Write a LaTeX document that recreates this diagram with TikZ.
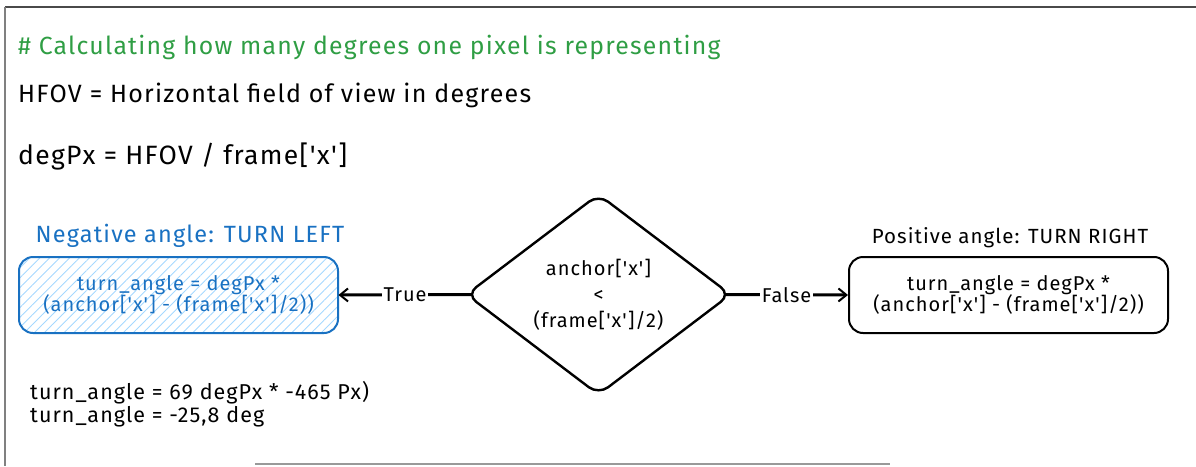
\documentclass[tikz,border=0pt]{standalone}
\usepackage{fontspec}
\setmainfont{Fira Sans}[Ligatures=TeXOff, LetterSpace=5]
\usetikzlibrary{arrows.meta,shapes.geometric,patterns.meta}
\definecolor{xgreen}{HTML}{2F9E44}
\definecolor{xblue}{HTML}{1971C2}
\definecolor{xlblue}{HTML}{A5D8FF}
\definecolor{xframe}{HTML}{4A4A4A}
\tikzset{
  txt/.style={inner sep=0pt, anchor=west},
  calcbox/.style={draw, rounded corners=14pt, line width=2pt, minimum width=319pt, minimum height=76pt, align=center, font=\fontsize{20}{21.5}\selectfont},
  conn/.style={line width=3pt, -{Straight Barb[length=8pt,width=13pt,line width=2pt]}},
  clabel/.style={fill=white, inner sep=1.5pt, font=\fontsize{20}{21}\selectfont},
}
\begin{document}
\begin{tikzpicture}[x=1pt,y=-1pt]
\useasboundingbox (0,0) rectangle (1196,466);
% frame
\draw[xframe, line width=2pt] (5,7) -- (1196,7);
\draw[gray, line width=2pt] (5,7) -- (5,466);
\draw[gray!80, line width=2pt] (255,464) -- (890,464);
% texts
\node[txt, text=xgreen, font=\fontsize{24.8}{27}\selectfont] (head) at (18,47) {\# Calculating how many degrees one pixel is representing};
\node[txt, font=\fontsize{25}{27}\selectfont] (hfov) at (18,95) {HFOV = Horizontal field of view in degrees};
\node[txt, font=\fontsize{26.5}{27}\selectfont] (degpx) at (18,157) {degPx = HFOV / frame['x']};
% boxes
\node[calcbox, draw=xblue, text=xblue, pattern={Lines[angle=45,distance=7pt,line width=0.9pt]}, pattern color=xlblue] (left) at (178.5,295) {turn\_angle = degPx *\\(anchor['x'] - (frame['x']/2))};
\node[calcbox] (right) at (1008.5,295) {turn\_angle = degPx *\\(anchor['x'] - (frame['x']/2))};
\node[text=xblue, font=\fontsize{23.5}{24}\selectfont, inner sep=0pt] (neglab) at (190,236) {Negative angle: TURN LEFT};
\node[font=\fontsize{20.5}{21}\selectfont, inner sep=0pt] (poslab) at (1010,238) {Positive angle: TURN RIGHT};
% diamond
\node[diamond, draw, line width=2.4pt, rounded corners=12pt, minimum width=265pt, minimum height=195pt, inner sep=0pt, align=center, font=\fontsize{20}{26}\selectfont] (dec) at (598.5,294.5) {anchor['x']\\<\\(frame['x']/2)};
\coordinate (decW) at ([xshift=7pt]dec.west);
\coordinate (decE) at ([xshift=-7pt]dec.east);
% connectors
\draw[conn] (decW) -- node[clabel] {True} (left.east);
\draw[conn] (decE) -- node[clabel] {False} (right.west);
% results
\node[txt, align=left, font=\fontsize{21.5}{23}\selectfont] (res) at (30,404) {turn\_angle = 69 degPx * -465 Px)\\turn\_angle = -25,8 deg};
\end{tikzpicture}
\end{document}
